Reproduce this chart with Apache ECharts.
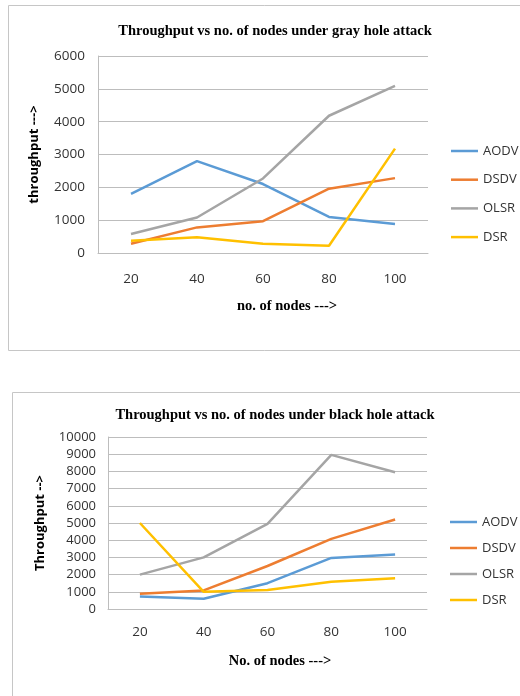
<!DOCTYPE html>
<html><head><meta charset="utf-8">
<script src="https://cdn.jsdelivr.net/npm/echarts@6/dist/echarts.min.js"></script>
<style>html,body{margin:0;padding:0;background:#fff;overflow:hidden}#c{width:520px;height:696px}</style>
</head><body><div id="c"></div>
<script>
const categories = ['20','40','60','80','100'];
const seriesNames = ['AODV','DSDV','OLSR','DSR'];
const grayAODV = [1800, 2800, 2100, 1100, 880];
const grayDSDV = [280, 780, 970, 1960, 2280];
const grayOLSR = [580, 1080, 2270, 4180, 5090];
const grayDSR  = [370, 480, 280, 220, 3180];
const blackAODV = [720, 600, 1500, 2970, 3170];
const blackDSDV = [880, 1080, 2500, 4080, 5200];
const blackOLSR = [2000, 3000, 4950, 8960, 7950];
const blackDSR  = [5000, 1000, 1100, 1580, 1790];
const grayTicks = {min: 0, max: 6000, interval: 1000};
const blackTicks = {min: 0, max: 10000, interval: 1000};

const colors = ['#5B9BD5','#ED7D31','#A5A5A5','#FFC000'];
const chart = echarts.init(document.getElementById('c'), null, {renderer:'canvas'});
const sans = '"Open Sans", "Liberation Sans", sans-serif';
const serif = '"Liberation Serif", "DejaVu Serif", serif';

function mk(name, data, idx, i){
  return {name, type:'line', data, xAxisIndex: idx, yAxisIndex: idx, showSymbol:false, symbol:'none',
    lineStyle:{width:2.5, color:colors[i]}, itemStyle:{color:colors[i]}, animation:false};
}
const xBase = {type:'category', data:categories, boundaryGap:true,
  axisTick:{show:false}, axisLine:{lineStyle:{color:'#bdbdbd', width:1}},
  axisLabel:{color:'#333', fontFamily:sans, fontSize:13.5}};
const yBase = {type:'value', splitLine:{lineStyle:{color:'#bdbdbd', width:1}},
  axisLine:{show:true, lineStyle:{color:'#bdbdbd', width:1}}, axisTick:{show:false},
  axisLabel:{color:'#333', fontFamily:sans, fontSize:13.5, formatter: v => String(v)},
  nameLocation:'middle', nameTextStyle:{color:'#000', fontFamily:sans, fontWeight:'bold', fontSize:13}};
const tStyle = {fontFamily:serif, fontWeight:'bold', fontSize:14.5, color:'#000'};

chart.setOption({
  animation:false,
  color: colors,
  graphic:[
    {type:'rect', shape:{x:8.5, y:5.5, width:530, height:345}, style:{fill:'none', stroke:'#c6c6c6', lineWidth:1}},
    {type:'rect', shape:{x:12.5, y:392.5, width:530, height:330}, style:{fill:'none', stroke:'#c6c6c6', lineWidth:1}}
  ],
  title:[
    {text:'Throughput vs no. of nodes under gray hole attack', left:270, top:19, textAlign:'center', textStyle:tStyle},
    {text:'no. of nodes --->', left:282, top:294, textAlign:'center', textStyle:tStyle},
    {text:'Throughput vs no. of nodes under black hole attack', left:270, top:403, textAlign:'center', textStyle:tStyle},
    {text:'No. of nodes --->', left:275, top:649, textAlign:'center', textStyle:tStyle}
  ],
  legend:[
    {data:seriesNames.map(n=>({name:n})), orient:'vertical', left:451, top:144, icon:'rect', itemWidth:27, itemHeight:2.5,
      itemGap:14.7, textStyle:{fontFamily:sans, fontSize:13, color:'#333', lineHeight:14}, selectedMode:false,
      padding:0},
    {data:seriesNames.map(n=>({name:n})), orient:'vertical', left:450, top:515, icon:'rect', itemWidth:27, itemHeight:2.5,
      itemGap:12, textStyle:{fontFamily:sans, fontSize:13, color:'#333', lineHeight:14}, selectedMode:false,
      padding:0}
  ],
  grid:[
    {left:98, right:92, top:56, height:197},
    {left:108, right:93, top:437, height:172}
  ],
  xAxis:[
    Object.assign({}, xBase, {gridIndex:0, axisLabel:Object.assign({}, xBase.axisLabel, {margin:19})}),
    Object.assign({}, xBase, {gridIndex:1, axisLabel:Object.assign({}, xBase.axisLabel, {margin:16})})
  ],
  yAxis:[
    Object.assign({}, yBase, grayTicks, {gridIndex:0, name:'throughput --->', nameGap:57,
      axisLabel:Object.assign({}, yBase.axisLabel, {margin:13})}),
    Object.assign({}, yBase, blackTicks, {gridIndex:1, name:'Throughput -->', nameGap:61,
      axisLabel:Object.assign({}, yBase.axisLabel, {margin:12, fontSize:13})})
  ],
  series:[
    mk('AODV', grayAODV, 0, 0), mk('DSDV', grayDSDV, 0, 1), mk('OLSR', grayOLSR, 0, 2), mk('DSR', grayDSR, 0, 3),
    mk('AODV', blackAODV, 1, 0), mk('DSDV', blackDSDV, 1, 1), mk('OLSR', blackOLSR, 1, 2), mk('DSR', blackDSR, 1, 3)
  ]
});
</script></body></html>
